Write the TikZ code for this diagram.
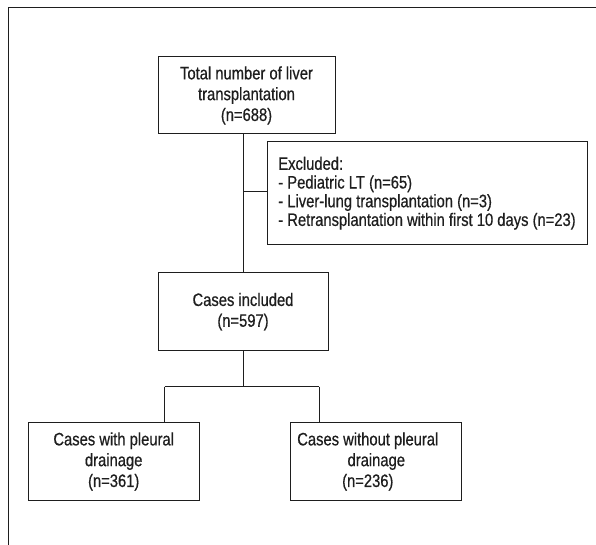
\documentclass[tikz,border=0pt]{standalone}
\usepackage{fontspec}
\setmainfont{Liberation Sans}[FakeStretch=0.82,FakeBold=0.6]
\definecolor{ink}{RGB}{30,30,30}
\begin{document}
\begin{tikzpicture}[x=1pt,y=-1pt,
  box/.style={draw=ink, line width=1pt, text=ink, inner sep=0pt, align=center,
    font=\fontsize{18}{20.8}\selectfont},
  link/.style={draw=ink, line width=1pt}]
\useasboundingbox (0,0) rectangle (596,545);
% open outer frame
\draw[link] (596,7.5) -- (8,7.5) -- (8,545);
% boxes
\node[box, minimum width=177pt, minimum height=77pt] (tot) at (246.5,95.5)
  {Total number of liver\\transplantation\\(n=688)};
\node[box, minimum width=320pt, minimum height=103.5pt, align=left,
  font=\fontsize{18}{18.7}\selectfont] (exc) at (427,193.2)
  {Excluded:\\- Pediatric LT (n=65)\\- Liver-lung transplantation (n=3)\\- Retransplantation within first 10 days (n=23)};
\node[box, minimum width=170pt, minimum height=78pt] (inc) at (243,311.7)
  {Cases included\\(n=597)};
\node[box, minimum width=170.7pt, minimum height=78.4pt] (lb) at (113.7,461.5)
  {Cases with pleural\\drainage\\(n=361)};
\node[box, minimum width=170.7pt, minimum height=78.4pt] (rb) at (376.3,461.5)
  {Cases without pleural\hspace*{17pt}\\drainage\hspace*{17pt}\\(n=236)\hspace*{17pt}};
% connectors
\coordinate (ex) at (243,191.5);
\coordinate (jc) at (243,386.7);
\coordinate (jl) at (164.7,386.7);
\coordinate (jr) at (319,386.7);
\draw[link] (tot.south -| inc.north) -- (inc.north);
\draw[link] (ex) -- (ex -| exc.west);
\draw[link] (inc.south) -- (jc);
\draw[link] (jl) -- (jr);
\draw[link] (jl) -- (jl |- lb.north);
\draw[link] (jr) -- (jr |- rb.north);
\end{tikzpicture}
\end{document}
